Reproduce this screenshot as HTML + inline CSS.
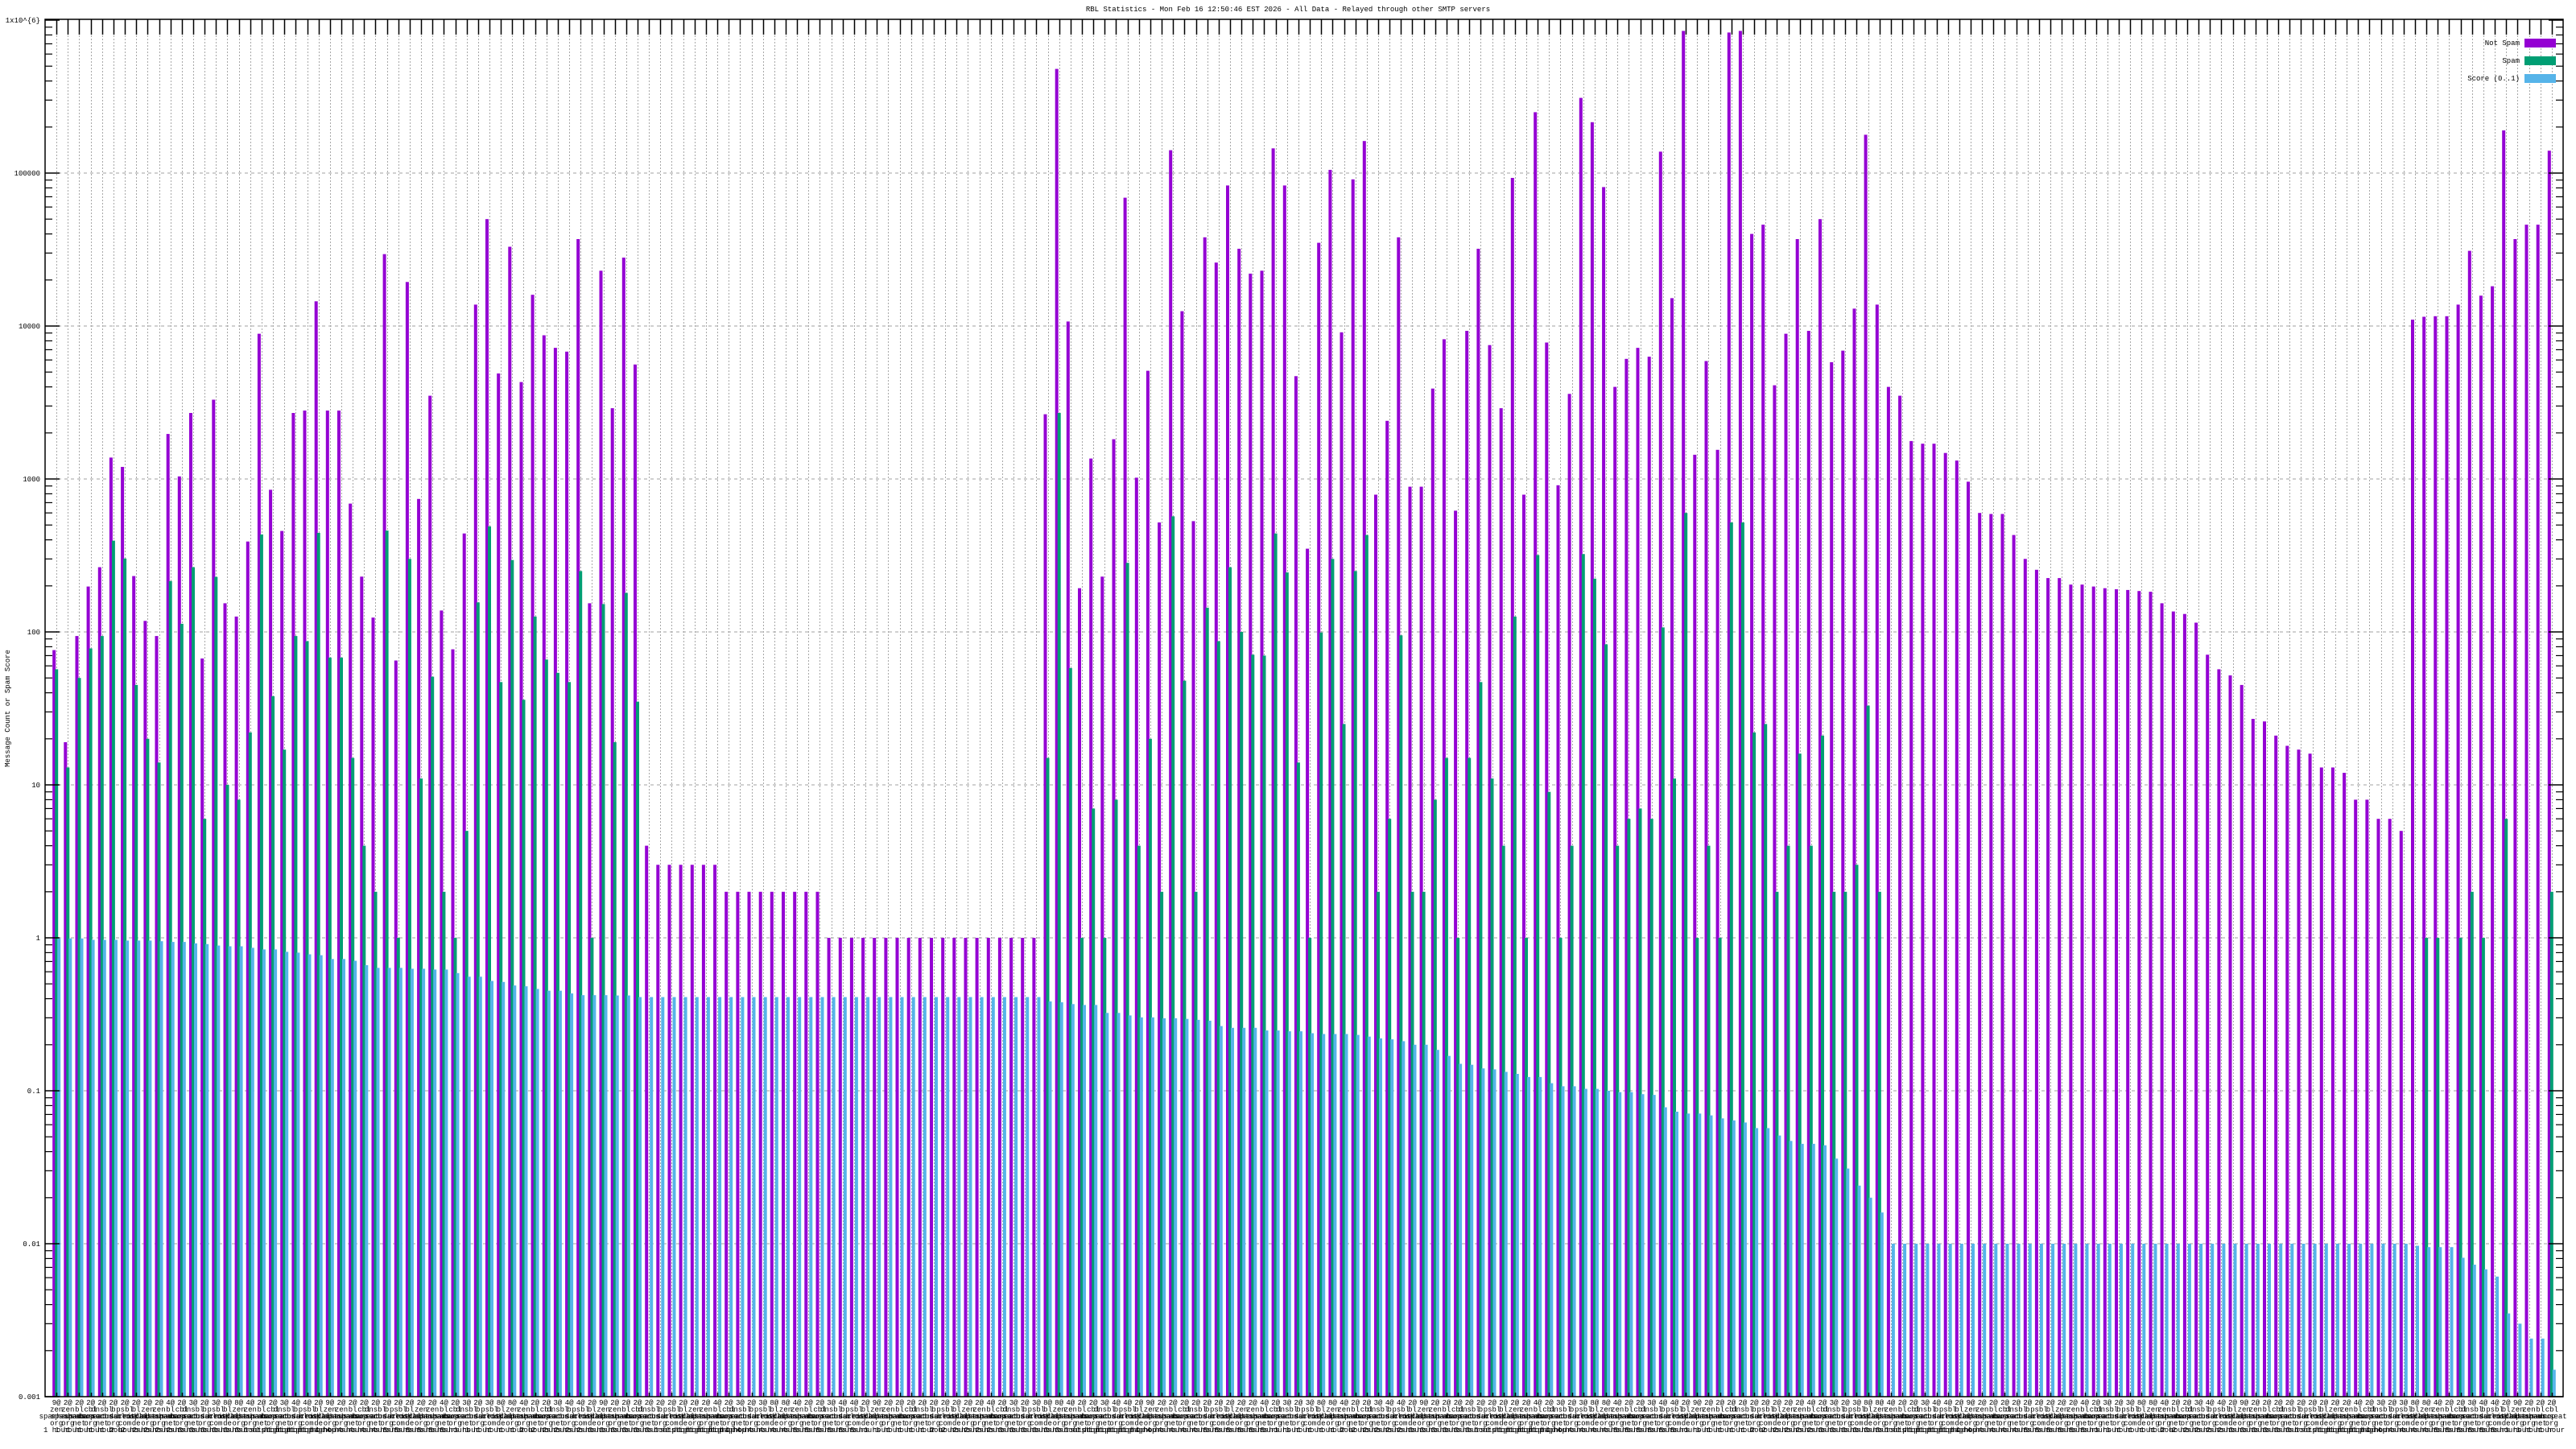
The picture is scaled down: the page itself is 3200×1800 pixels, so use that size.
<!DOCTYPE html>
<html><head><meta charset="utf-8"><title>RBL Statistics</title>
<style>
html,body{margin:0;padding:0;background:#fff;}
svg{display:block;font-family:"Liberation Mono","DejaVu Sans Mono",monospace;}
</style></head>
<body>
<svg id="chart" width="3200" height="1800" viewBox="0 0 3200 1800" xmlns="http://www.w3.org/2000/svg">
<rect x="0" y="0" width="3200" height="1800" fill="#fff"/>
<text x="1600" y="14" font-size="9" text-anchor="middle">RBL Statistics - Mon Feb 16 12:50:46 EST 2026 - All Data - Relayed through other SMTP servers</text>
<text x="12" y="880" font-size="9" text-anchor="middle" transform="rotate(-90 12 880)">Message Count or Spam Score</text>
<g id="grid"></g>
<g id="bars"></g>
<g id="axes"></g>
<g id="xlabels"></g>
<g id="legend">
  <text x="3130" y="56" font-size="9" text-anchor="end">Not Spam</text>
  <rect x="3136" y="48" width="39" height="11" fill="#9400D3"/>
  <text x="3130" y="78" font-size="9" text-anchor="end">Spam</text>
  <rect x="3136" y="70" width="39" height="11" fill="#009E73"/>
  <text x="3130" y="100" font-size="9" text-anchor="end">Score (0..1)</text>
  <rect x="3136" y="92" width="39" height="11" fill="#56B4E9"/>
</g>
</svg>
<script>
const notSpam = [76,19,94,198,265,1380,1200,232,118,94,1970,1040,2700,67,3300,154,126,390,8900,850,457,2700,2800,14500,
2800,2800,690,230,124,29500,65,19400,740,3500,138,77,440,13800,50000,4900,33000,4300,16000,8700,7200,6800,37000,154,23000,
2900,28000,5600,4,3,3,3,3,3,3,2,2,2,2,2,2,2,2,2,1,1,1,1,1,1,
1,1,1,1,1,1,1,1,1,1,1,1,1,
2650,480000,10700,193,1360,230,1820,69000,1020,5100,520,141000,
12500,530,38000,26000,83000,32000,22000,23000,145000,83000,4700,350,35000,105000,9100,91000,162000,790,2400,38000,890,890,3900,8200,
620,9300,32000,7500,2900,93000,790,250000,7800,910,3600,310000,215000,81000,4000,6100,7200,6300,138000,15200,850000,1440,5900,1550,830000,
850000,40000,46000,4100,8900,37000,9300,50000,5800,6900,13000,178000,13800,4000,3500,1770,1700,1700,1480,1320,960,600,590,590,430,
300,255,225,225,204,204,198,193,190,188,185,183,154,136,131,115,71,57,52,45,27,26,21,18,17,
16,13,13,12,8,8,6,6,5,11000,11500,11600,11600,13800,31000,15800,18200,190000,37000,46000,46000,140000];

const spam = [57,13,50,78,94,395,302,45,20,14,215,113,265,6,229,10,8,22,434,38,17,94,87,444,
68,68,15,4,2,460,1,300,11,51,2,1,5,156,490,47,295,36,126,66,54,47,250,1,152,
19,180,35,0,0,0,0,0,0,0,0,0,0,0,0,0,0,0,0,0,0,0,0,0,0,
0,0,0,0,0,0,0,0,0,0,0,0,0,
15,2700,58,1,7,1,8,283,4,20,2,570,
48,2,144,87,265,100,71,70,440,245,14,1,99,300,25,250,430,2,6,95,2,2,8,15,
1,15,47,11,4,126,1,318,9,1,4,323,223,83,4,6,7,6,107,11,600,1,4,1,520,
520,22,25,2,4,16,4,21,2,2,3,33,2,0,0,0,0,0,0,0,0,0,0,0,0,
0,0,0,0,0,0,0,0,0,0,0,0,0,0,0,0,0,0,0,0,0,0,0,0,0,
0,0,0,0,0,0,0,0,0,0,1,1,0,1,2,1,0,6,0,0,0,2];

const score = [.99,.99,.99,.97,.97,.97,.96,.96,.96,.95,.94,.94,.92,.91,.89,.88,.88,.86,.84,.84,.81,.80,.78,.77,
.727,.727,.708,.662,.636,.636,.636,.628,.628,.62,.62,.588,.557,.557,.522,.515,.488,.482,.463,.451,.451,.433,.422,.422,.422,
.42,.42,.41,.41,.41,.41,.41,.41,.41,.41,.41,.41,.41,.41,.41,.41,.41,.41,.41,.41,.41,.41,.41,.41,.41,
.41,.41,.41,.41,.41,.41,.41,.41,.41,.41,.41,.41,.41,
.384,.379,.369,.364,.364,.323,.323,.311,.302,.302,.298,.298,
.295,.291,.287,.265,.258,.258,.258,.248,.248,.245,.245,.238,.235,.235,.235,.232,.226,.22,.217,.211,.2,.2,.185,.169,
.15,.148,.14,.138,.133,.129,.123,.123,.112,.107,.107,.103,.103,.1,.098,.098,.095,.094,.078,.073,.071,.071,.069,.066,.064,
.062,.057,.057,.051,.047,.045,.045,.044,.036,.031,.024,.02,.016,.01,.01,.01,.01,.01,.01,.01,.01,.01,.01,.01,.01,
.01,.01,.01,.01,.01,.01,.01,.01,.01,.01,.01,.01,.01,.01,.01,.01,.01,.01,.01,.01,.01,.01,.01,.01,.01,
.01,.01,.01,.01,.01,.01,.01,.01,.01,.0097,.0095,.0095,.0095,.0081,.0073,.0068,.0061,.0035,.003,.0024,.0024,.0015];

const yTickValues = [0.001,0.01,0.1,1,10,100,1000,10000,100000,1000000];
const yTickLabels = ["0.001","0.01","0.1","1","10","100","1000","10000","100000","1x10^{6}"];
const labelCounts = ["9@","2@","2@","2@","2@","2@","2@","2@","2@","2@","4@","2@","3@","2@","3@","8@","8@","4@","2@","2@","3@","4@","4@","2@"];
const sourceNames = ["zen.spamhaus.org","zen.spamhaus.org","bl.spamcop.net","cbl.abuseat.org","dnsbl.sorbs.net","b.barracudacentral.org","psbl.surriel.com","bl.blocklist.de"];
const periodNames = ["1 hour","2 hours","3 hours","1 hiphop","4 hours","5 hours"];

const L=56, R=3184, T=24, B=1735, DEC=190;
const N = notSpam.length;
const step = (R-L)/(N+1);
function yv(v){ return B - (Math.log10(v)+3)*DEC; }
function xc(i){ return L + (i+1)*step; }
const NS="http://www.w3.org/2000/svg";
function mk(tag, attrs, parent){ const e=document.createElementNS(NS,tag); for(const k in attrs) e.setAttribute(k,attrs[k]); parent.appendChild(e); return e; }

const grid=document.getElementById('grid'), bars=document.getElementById('bars'), axes=document.getElementById('axes'), xl=document.getElementById('xlabels');

// horizontal grid at decades
yTickValues.forEach((v,k)=>{
  if(k===0||k===yTickValues.length-1) return;
  const y=yv(v);
  const g=mk('line',{x1:L,x2:R,y1:y,y2:y,stroke:'#a0a0a0','stroke-width':1,'stroke-dasharray':'4,4'},grid);
  
  
});
// vertical grid at groups
for(let i=0;i<N;i++){
  const x=Math.round(xc(i))+0.5;
  const g=mk('line',{x1:x,x2:x,y1:T,y2:B,stroke:'#a8a8a8','stroke-width':1,'stroke-dasharray':'2,2'},grid);
  
  
}

// bars
const colors=['#9400D3','#009E73','#56B4E9'];
const offs=[-5,-2,1];
const names=['bar-not-spam','bar-spam','bar-score'];
[notSpam,spam,score].forEach((arr,s)=>{
  for(let i=0;i<N;i++){
    const v=arr[i]; if(!(v>0)) continue;
    const y=yv(v);
    const r=mk('rect',{x:(xc(i)+offs[s]).toFixed(1),y:y.toFixed(1),width:4,height:(B-y).toFixed(1),fill:colors[s]},bars);
    
    
  }
});

// axes border
const border=mk('rect',{x:L,y:T,width:R-L,height:B-T,fill:'none',stroke:'#000','stroke-width':1.5},axes);


// y ticks
yTickValues.forEach((v,k)=>{
  const y=yv(v);
  mk('line',{x1:L,x2:L+18,y1:y,y2:y,stroke:'#000','stroke-width':1.5},axes);
  mk('line',{x1:R,x2:R-18,y1:y,y2:y,stroke:'#000','stroke-width':1.5},axes);
  const t=mk('text',{x:L-6,y:y+3,'font-size':9,'text-anchor':'end'},axes);
  t.textContent=yTickLabels[k];
  
  
  if(k<yTickValues.length-1){
    for(let m=2;m<=9;m++){
      const ym=yv(v*m);
      mk('line',{x1:L,x2:L+9,y1:ym,y2:ym,stroke:'#000','stroke-width':1.2},axes);
      mk('line',{x1:R,x2:R-9,y1:ym,y2:ym,stroke:'#000','stroke-width':1.2},axes);
    }
  }
});
// x ticks top & bottom
for(let i=0;i<N;i++){
  const x=Math.round(xc(i))+0.5;
  mk('line',{x1:x,x2:x,y1:T,y2:T+19,stroke:'#000','stroke-width':1.5},axes);
  mk('line',{x1:x,x2:x,y1:B,y2:B-5,stroke:'#000','stroke-width':1.5},axes);
}
// x labels
for(let i=0;i<N;i++){
  const x=xc(i);
  const parts=sourceNames[i%sourceNames.length].split('.');
  const lines=[labelCounts[i%labelCounts.length], parts[0], parts.slice(1,-1).join('.')||'spam', parts[parts.length-1], periodNames[Math.floor(i/6)%periodNames.length]];
  const t=mk('text',{x:x.toFixed(1),y:1745,'font-size':9,'text-anchor':'middle'},xl);
  
  
  lines.forEach((ln,j)=>{
    const ts=mk('tspan',{x:x.toFixed(1),dy:j===0?0:8.5},t);
    ts.textContent=ln;
  });
}
</script>
</body></html>
